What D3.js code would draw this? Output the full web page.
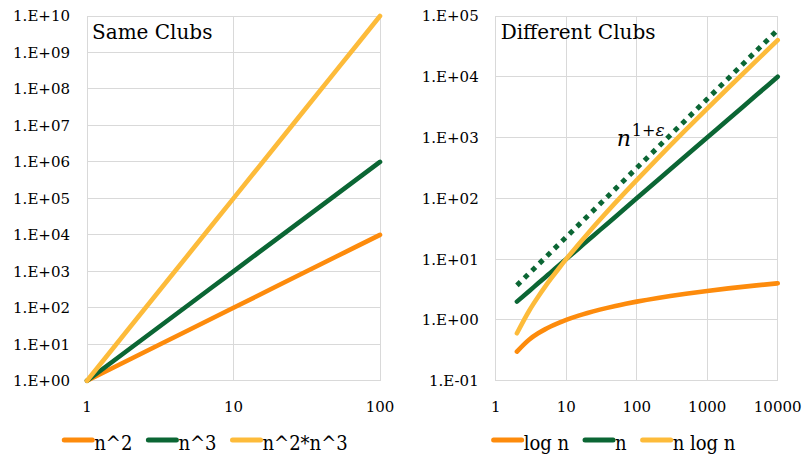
<!DOCTYPE html>
<html>
<head>
<meta charset="utf-8">
<script src="https://cdn.jsdelivr.net/npm/d3@7"></script>
<style>
  html, body { margin: 0; padding: 0; background: #fff; }
  svg { display: block; }
  .tick-label { font-family: "DejaVu Serif", serif; font-size: 15px; fill: #000; }
  .title { font-family: "DejaVu Serif", serif; font-size: 20px; fill: #000; }
  .legend-text { font-family: "DejaVu Serif Condensed", "DejaVu Serif", serif; font-size: 20px; fill: #000; }
</style>
</head>
<body>
<svg id="chart" width="804" height="458"></svg>
<script>
// ---- Left panel: same clubs ----
const sameN = [1, 2, 5, 10, 20, 50, 100];
const sameSquare = [1, 4, 25, 100, 400, 2500, 10000];
const sameCube = [1, 8, 125, 1000, 8000, 125000, 1000000];
const sameFifth = [1, 32, 3125, 100000, 3200000, 312500000, 10000000000];
const sameXTicks = [1, 10, 100];
const sameYExps = [0, 1, 2, 3, 4, 5, 6, 7, 8, 9, 10];
const sameLegend = ["n^2", "n^3", "n^2*n^3"];

// ---- Right panel: different clubs ----
const diffN = [2, 3, 4, 5, 6, 8, 10, 15, 20, 30, 50, 70, 100, 200, 300, 500, 1000, 2000, 5000, 10000];
const diffLog = [0.301, 0.477, 0.602, 0.699, 0.778, 0.903, 1, 1.176, 1.301, 1.477, 1.699, 1.845, 2, 2.301, 2.477, 2.699, 3, 3.301, 3.699, 4];
const diffLinear = [2, 3, 4, 5, 6, 8, 10, 15, 20, 30, 50, 70, 100, 200, 300, 500, 1000, 2000, 5000, 10000];
const diffNLogN = [0.602, 1.431, 2.408, 3.495, 4.669, 7.225, 10, 17.64, 26.02, 44.31, 84.95, 129.2, 200, 460.2, 743.1, 1349, 3000, 6602, 18495, 40000];
const boundN = [2, 10, 100, 1000, 10000];
const boundVals = [3.7, 23, 316, 4300, 59000];
const diffXTicks = [1, 10, 100, 1000, 10000];
const diffYExps = [-1, 0, 1, 2, 3, 4, 5];
const diffLegend = ["log n", "n", "n log n"];

const COLORS = ["#FD8B0C", "#0B6634", "#FDBB3A"];
const GRID = "#d9d9d9";
const LINE_W = 4.6;

const svg = d3.select("#chart");

function expLabel(e) {
  const s = e < 0 ? "-" : "+";
  return "1.E" + s + String(Math.abs(e)).padStart(2, "0");
}

function panel(cfg) {
  const g = svg.append("g");
  const x = d3.scaleLog().domain(cfg.xDomain).range([cfg.left, cfg.right]);
  const y = d3.scaleLog().domain(cfg.yDomain).range([cfg.bottom, cfg.top]);

  // gridlines
  g.append("g").selectAll("line.h").data(cfg.yExps).join("line")
    .attr("x1", cfg.left).attr("x2", cfg.right)
    .attr("y1", e => y(Math.pow(10, e))).attr("y2", e => y(Math.pow(10, e)))
    .attr("stroke", GRID).attr("stroke-width", 1).attr("shape-rendering", "crispEdges");
  g.append("g").selectAll("line.v").data(cfg.xTicks).join("line")
    .attr("x1", d => x(d)).attr("x2", d => x(d))
    .attr("y1", cfg.top).attr("y2", cfg.bottom)
    .attr("stroke", GRID).attr("stroke-width", 1).attr("shape-rendering", "crispEdges");

  // y tick labels
  g.append("g").selectAll("text").data(cfg.yExps).join("text")
    .attr("class", "tick-label")
    .attr("x", cfg.left - 17)
    .attr("y", e => y(Math.pow(10, e)))
    .attr("dy", "0.36em")
    .attr("text-anchor", "end")
    .text(expLabel);

  // x tick labels
  g.append("g").selectAll("text").data(cfg.xTicks).join("text")
    .attr("class", "tick-label")
    .attr("x", d => x(d))
    .attr("y", 412)
    .attr("text-anchor", "middle")
    .text(d => String(d));

  // title
  g.append("text").attr("class", "title")
    .attr("x", cfg.left + 5).attr("y", 39)
    .text(cfg.title);

  // series
  const line = d3.line().x(d => x(d[0])).y(d => y(d[1])).curve(d3.curveMonotoneX);
  cfg.series.forEach((s, i) => {
    g.append("path")
      .datum(cfg.xs.map((n, k) => [n, s[k]]))
      .attr("d", line)
      .attr("fill", "none")
      .attr("stroke", COLORS[i])
      .attr("stroke-width", LINE_W)
      .attr("stroke-linecap", "round")
      .attr("stroke-linejoin", "round");
  });

  // legend
  const lg = g.append("g");
  let cursor = 0;
  cfg.legend.forEach((label, i) => {
    const it = lg.append("g");
    it.append("line")
      .attr("x1", 0).attr("x2", 28)
      .attr("y1", 440).attr("y2", 440)
      .attr("stroke", COLORS[i]).attr("stroke-width", 5)
      .attr("stroke-linecap", "round");
    const t = it.append("text").attr("class", "legend-text")
      .attr("x", 30).attr("y", 450).text(label);
    const w = 30 + t.node().getComputedTextLength();
    it.attr("transform", `translate(${cursor},0)`);
    cursor += w + 16;
  });
  const total = cursor - 16;
  lg.attr("transform", `translate(${cfg.legendCenter - total / 2},0)`);

  return { g, x, y };
}

panel({
  title: "Same Clubs",
  xDomain: [1, 100], yDomain: [1, 1e10],
  left: 87, right: 380, top: 16, bottom: 380.7,
  xTicks: sameXTicks, yExps: sameYExps,
  xs: sameN, series: [sameSquare, sameCube, sameFifth],
  legend: sameLegend, legendCenter: 206
});

const right = panel({
  title: "Different Clubs",
  xDomain: [1, 10000], yDomain: [0.1, 1e5],
  left: 495.7, right: 777.7, top: 16, bottom: 380.7,
  xTicks: diffXTicks, yExps: diffYExps,
  xs: diffN, series: [diffLog, diffLinear, diffNLogN],
  legend: diffLegend, legendCenter: 614.5
});

// dotted n^(1+eps) bound
right.g.append("path")
  .datum(boundN.map((n, k) => [n, boundVals[k]]))
  .attr("d", d3.line().x(d => right.x(d[0])).y(d => right.y(d[1])))
  .attr("fill", "none")
  .attr("stroke", COLORS[1])
  .attr("stroke-width", 5)
  .attr("stroke-dasharray", "5,5.5")
  .attr("stroke-linecap", "butt");

// label for the bound
const ann = right.g.append("text")
  .attr("x", right.x(52)).attr("y", right.y(736))
  .attr("font-family", "'DejaVu Serif', serif")
  .attr("fill", "#000");
ann.append("tspan").attr("font-style", "italic").attr("font-size", 22).text("n");
ann.append("tspan").attr("font-size", 16).attr("dy", -10).attr("dx", 1).text("1+");
ann.append("tspan").attr("font-size", 17).attr("font-style", "italic").text("ε");
</script>
</body>
</html>
